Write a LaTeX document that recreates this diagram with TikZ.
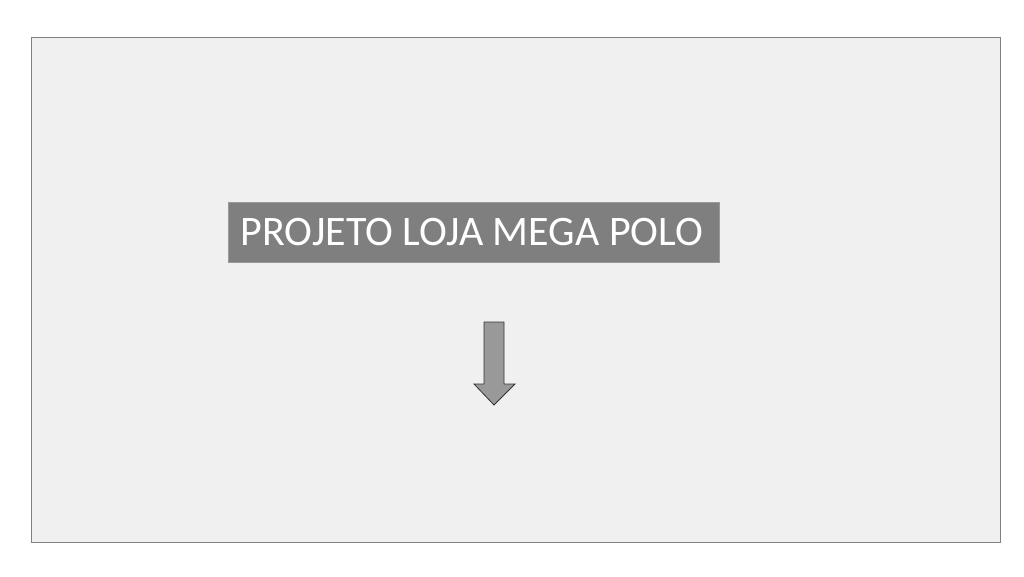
\documentclass[tikz,border=0pt]{standalone}
\usepackage{fontspec}
\setmainfont{Carlito}
\definecolor{slidebg}{HTML}{F0F0F0}
\definecolor{titlegray}{HTML}{7F7F7F}
\definecolor{arrowgray}{HTML}{999999}
\begin{document}
\begin{tikzpicture}[x=1pt, y=-1pt]
	\useasboundingbox (0,0) rectangle (1024,576);
	% Slide
	\draw [color=gray, fill=slidebg, line width=1pt] (31,37) rectangle (1000,542);
	% Title
	\node [draw=gray!80, fill=titlegray, inner sep=0pt, minimum width=491pt, minimum height=60pt] (title) at (474,232) {};
	\node [text=white, inner sep=0pt, font=\fontsize{42}{46}\selectfont] (titletext) at (472,232) {PROJETO LOJA MEGA POLO};
	% Arrow
	\draw [color=black!80, fill=arrowgray, line width=0.8pt] (484,322) -- (504,322) -- (504,384) -- (515,384) -- (494,405) -- (474,384) -- (484,384) -- cycle;
\end{tikzpicture}
\end{document}
